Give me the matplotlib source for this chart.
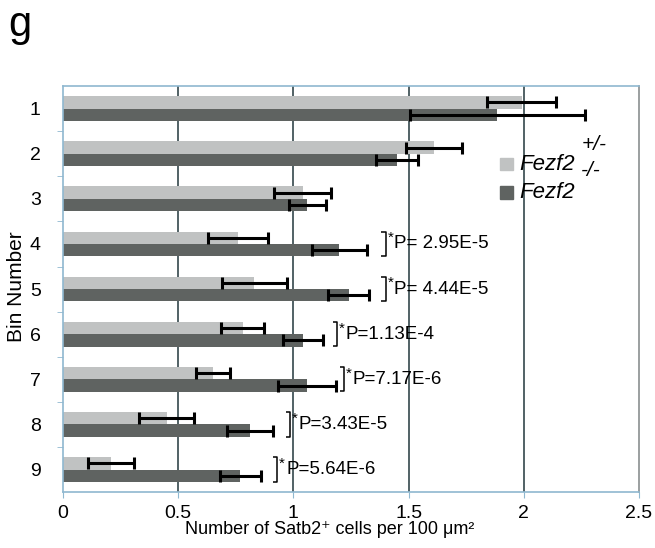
import matplotlib.pyplot as plt
import numpy as np

plt.rcParams['font.family'] = ['Liberation Sans', 'DejaVu Sans']

# data
bins = [1, 2, 3, 4, 5, 6, 7, 8, 9]
het_mean = [1.99, 1.61, 1.04, 0.76, 0.83, 0.78, 0.65, 0.45, 0.21]
het_err = [0.15, 0.12, 0.125, 0.13, 0.14, 0.093, 0.074, 0.12, 0.10]
ko_mean = [1.885, 1.45, 1.06, 1.20, 1.24, 1.04, 1.06, 0.81, 0.77]
ko_err = [0.38, 0.09, 0.08, 0.12, 0.09, 0.087, 0.125, 0.10, 0.09]

# significance labels: bin, bracket x position, label
sig_bins = [4, 5, 6, 7, 8, 9]
sig_x = [1.40, 1.40, 1.19, 1.22, 0.985, 0.93]
sig_p = ['P= 2.95E-5', 'P= 4.44E-5', 'P=1.13E-4', 'P=7.17E-6', 'P=3.43E-5', 'P=5.64E-6']

light = '#c0c2c2'
dark = '#5f6361'
frame = '#8fb8d0'
grid_col = '#34474c'

fig = plt.figure(figsize=(6.55, 5.48), dpi=100)
ax = fig.add_axes([0.0962, 0.102, 0.8794, 0.741])

y = np.array(bins, dtype=float)
h = 0.275
ax.barh(y - h / 2, het_mean, height=h, color=light, zorder=2)
ax.barh(y + h / 2, ko_mean, height=h, color=dark, zorder=2)
ax.errorbar(het_mean, y - h / 2, xerr=het_err, fmt='none', ecolor='black',
            elinewidth=2.2, capsize=4.5, capthick=2.2, zorder=3)
ax.errorbar(ko_mean, y + h / 2, xerr=ko_err, fmt='none', ecolor='black',
            elinewidth=2.2, capsize=4.5, capthick=2.2, zorder=3)

# brackets + p values
for b, xs, p in zip(sig_bins, sig_x, sig_p):
    top, bot = b - 0.27, b + 0.27
    ax.plot([xs - 0.018, xs, xs, xs - 0.018], [top, top, bot, bot],
            color='black', lw=1.1, zorder=4, solid_capstyle='butt')
    ax.text(xs + 0.008, b - 0.13, '*', fontsize=11, ha='left', va='center', zorder=4)
    ax.text(xs + 0.038, b, p, fontsize=13.5, ha='left', va='center', zorder=4)

ax.set_xlim(0, 2.5)
ax.set_ylim(9.5, 0.5)
ax.set_xticks([0, 0.5, 1, 1.5, 2, 2.5])
ax.set_xticklabels(['0', '0.5', '1', '1.5', '2', '2.5'], fontsize=14)
ax.set_yticks(bins)
ax.set_yticklabels([str(b) for b in bins], fontsize=14)
ax.tick_params(axis='y', length=0, pad=16)
ax.set_yticks(np.arange(1.5, 9.5, 1.0), minor=True)
ax.tick_params(axis='y', which='minor', length=4, color=frame, direction='out')
ax.tick_params(axis='x', length=4, color=frame, direction='out', pad=5)

for v in [0.5, 1, 1.5, 2]:
    ax.axvline(v, color=grid_col, lw=1.2, zorder=1)

for s in ['top', 'left', 'bottom']:
    ax.spines[s].set_color(frame)
    ax.spines[s].set_linewidth(1.2)
ax.spines['right'].set_color('#8a8f90')
ax.spines['right'].set_linewidth(1.2)

fig.text(0.504, 0.033, 'Number of Satb2\u207a cells per 100 \u03bcm\u00b2', fontsize=13,
         ha='center', va='center')
fig.text(0.025, 0.476, 'Bin Number', fontsize=15, rotation=90, ha='center', va='center')

# legend drawn by hand
for yy, c in [(0.808, light), (0.739, dark)]:
    ax.add_patch(plt.Rectangle((0.759, yy - 0.016), 0.0226, 0.032, color=c,
                               transform=ax.transAxes, zorder=5, clip_on=False))
    ax.text(0.792, yy, 'Fezf2', style='italic', fontsize=16, ha='left', va='center',
            transform=ax.transAxes, zorder=5)
ax.text(0.9, 0.855, '+/-', style='italic', fontsize=15, ha='left', va='center',
        transform=ax.transAxes, zorder=5)
ax.text(0.9, 0.793, '-/-', style='italic', fontsize=15, ha='left', va='center',
        transform=ax.transAxes, zorder=5)

fig.text(0.012, 0.955, 'g', fontsize=30, ha='left', va='center')

fig.savefig('out.png', dpi=100)
